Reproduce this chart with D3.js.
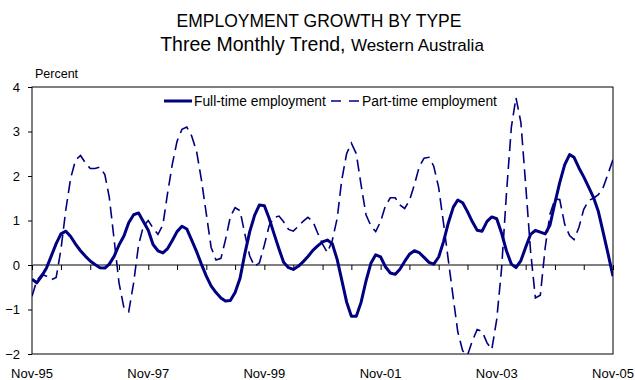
<!DOCTYPE html>
<html>
<head>
<meta charset="utf-8">
<script src="https://cdn.jsdelivr.net/npm/d3@7"></script>
<style>
  html, body { margin: 0; padding: 0; background: #fff; }
  svg { display: block; font-family: "Liberation Sans", Arial, sans-serif; }
</style>
</head>
<body>
<svg id="chart" width="635" height="380"></svg>
<script>
// Monthly series, Nov-1995 to Nov-2005 (three monthly % change, trend)
const startYear = 1995, startMonth = 10; // November 1995
const fullTime = [
  -0.32, -0.40, -0.25, -0.06, 0.20, 0.48, 0.70, 0.76, 0.64, 0.47, 0.32, 0.20,
  0.09, 0.01, -0.06, -0.07, 0.02, 0.20, 0.45, 0.65, 0.95, 1.13, 1.17, 0.98,
  0.78, 0.46, 0.32, 0.27, 0.36, 0.55, 0.75, 0.87, 0.81, 0.56, 0.30, 0.02,
  -0.25, -0.47, -0.62, -0.74, -0.81, -0.80, -0.62, -0.30, 0.25, 0.75, 1.12, 1.35,
  1.33, 1.05, 0.70, 0.36, 0.06, -0.06, -0.10, -0.03, 0.07, 0.19, 0.33, 0.43,
  0.52, 0.56, 0.48, 0.12, -0.33, -0.83, -1.15, -1.15, -0.84, -0.36, 0.04, 0.23,
  0.18, -0.04, -0.18, -0.21, -0.10, 0.08, 0.24, 0.32, 0.28, 0.17, 0.06, 0.02,
  0.18, 0.52, 0.95, 1.30, 1.46, 1.40, 1.20, 0.97, 0.78, 0.76, 0.98, 1.08,
  1.04, 0.72, 0.32, 0.02, -0.06, 0.10, 0.40, 0.69, 0.78, 0.74, 0.70, 0.90,
  1.40, 1.85, 2.25, 2.48, 2.42, 2.18, 1.98, 1.75, 1.52, 1.20, 0.72, 0.25,
  -0.25
];
const partTime = [
  -0.70, -0.35, -0.21, -0.25, -0.33, -0.28, 0.35, 1.25, 1.95, 2.36, 2.46, 2.30,
  2.17, 2.17, 2.20, 2.03, 1.52, 0.55, -0.40, -0.96, -1.05, -0.40, 0.45, 0.87,
  1.00, 0.83, 0.69, 0.90, 1.58, 2.26, 2.78, 3.05, 3.10, 2.90, 2.55, 1.92,
  1.15, 0.40, 0.11, 0.15, 0.56, 1.08, 1.29, 1.22, 0.70, 0.20, -0.03, 0.05,
  0.45, 0.88, 1.07, 1.10, 0.97, 0.80, 0.76, 0.87, 0.98, 1.07, 0.98, 0.72,
  0.47, 0.28, 0.55, 1.05, 1.90, 2.50, 2.74, 2.50, 1.80, 1.13, 0.88, 0.75,
  0.98, 1.33, 1.51, 1.51, 1.35, 1.27, 1.45, 1.80, 2.20, 2.40, 2.42, 2.22,
  1.74, 0.95, 0.10, -0.75, -1.50, -1.93, -2.03, -1.70, -1.45, -1.49, -1.75, -1.90,
  -1.22, -0.10, 1.60, 3.10, 3.76, 3.20, 1.80, 0.30, -0.74, -0.68, 0.40, 1.15,
  1.48, 1.47, 0.92, 0.66, 0.57, 0.85, 1.25, 1.45, 1.50, 1.58, 1.75, 2.05,
  2.37
];
const xTickLabels = ["Nov-95", "Nov-97", "Nov-99", "Nov-01", "Nov-03", "Nov-05"];
const yTicks = [-2, -1, 0, 1, 2, 3, 4];
const seriesNames = ["Full-time employment", "Part-time employment"];

const months = fullTime.map((_, i) => new Date(startYear, startMonth + i, 1));

const svg = d3.select("#chart");
const margin = { left: 32, right: 22, top: 87, bottom: 26 };
const W = 635, H = 380;
const x = d3.scaleTime()
  .domain([months[0], months[months.length - 1]])
  .range([margin.left, W - margin.right]);
const y = d3.scaleLinear().domain([-2, 4]).range([H - margin.bottom, margin.top]);
const navy = "#000080";

// Titles
svg.append("text").attr("x", 319).attr("y", 27).attr("text-anchor", "middle")
  .attr("font-size", 17.5).attr("fill", "#000").text("EMPLOYMENT GROWTH BY TYPE");
const sub = svg.append("text").attr("x", 322).attr("y", 51).attr("text-anchor", "middle").attr("fill", "#000");
sub.append("tspan").attr("font-size", 19.5).text("Three Monthly Trend, ");
sub.append("tspan").attr("font-size", 17).text("Western Australia");

svg.append("text").attr("x", 35).attr("y", 78).attr("font-size", 12.5).text("Percent");

// Plot frame
svg.append("rect")
  .attr("x", x.range()[0]).attr("y", y(4))
  .attr("width", x.range()[1] - x.range()[0]).attr("height", y(-2) - y(4))
  .attr("fill", "none").attr("stroke", "#000").attr("stroke-width", 1);

// Y axis
const yAxis = d3.axisLeft(y).tickValues(yTicks).tickSize(4).tickPadding(8).tickFormat(d3.format("d"));
const yg = svg.append("g").attr("transform", `translate(${x.range()[0]},0)`).call(yAxis);
yg.select(".domain").remove();
yg.selectAll("line").attr("stroke", "#000");
yg.selectAll("text").attr("font-size", 13).attr("font-family", "Liberation Sans, Arial, sans-serif").attr("fill", "#000");

// Zero line with half-yearly tick marks
const tickDates = d3.range(0, months.length, 6).map(i => months[i]);
svg.append("g").attr("transform", `translate(0,${y(0)})`)
  .call(d3.axisBottom(x).tickValues(tickDates).tickSize(5).tickFormat(""))
  .call(g => g.select(".domain").attr("stroke", "#808080").attr("stroke-width", 2).attr("d", `M${x.range()[0]},0H${x.range()[1]}`))
  .call(g => g.selectAll("line").attr("stroke", "#000"));

// X labels along the bottom
const labelDates = xTickLabels.map((_, k) => months[k * 24]);
svg.append("g").selectAll("text").data(xTickLabels).join("text")
  .attr("x", (d, k) => x(labelDates[k])).attr("y", 378)
  .attr("text-anchor", "middle").attr("font-size", 13).text(d => d);

// Lines
svg.append("clipPath").attr("id", "plotclip").append("rect")
  .attr("x", x.range()[0]).attr("y", y(4))
  .attr("width", x.range()[1] - x.range()[0]).attr("height", y(-2) - y(4));

const line = d3.line().x((d, i) => x(months[i])).y(d => y(d));
const plot = svg.append("g").attr("clip-path", "url(#plotclip)");
plot.append("path").datum(partTime).attr("d", line)
  .attr("fill", "none").attr("stroke", navy).attr("stroke-width", 1.6)
  .attr("stroke-dasharray", "12,6");
plot.append("path").datum(fullTime).attr("d", line)
  .attr("fill", "none").attr("stroke", navy).attr("stroke-width", 3)
  .attr("stroke-linejoin", "round");

// Legend
const lg = svg.append("g");
lg.append("line").attr("x1", 164).attr("x2", 192).attr("y1", 101).attr("y2", 101)
  .attr("stroke", navy).attr("stroke-width", 3);
lg.append("text").attr("x", 194).attr("y", 106).attr("font-size", 13.8).text(seriesNames[0]);
lg.append("line").attr("x1", 331).attr("x2", 361).attr("y1", 101).attr("y2", 101)
  .attr("stroke", navy).attr("stroke-width", 1.6).attr("stroke-dasharray", "10,8");
lg.append("text").attr("x", 362).attr("y", 106).attr("font-size", 13.8).text(seriesNames[1]);
</script>
</body>
</html>
